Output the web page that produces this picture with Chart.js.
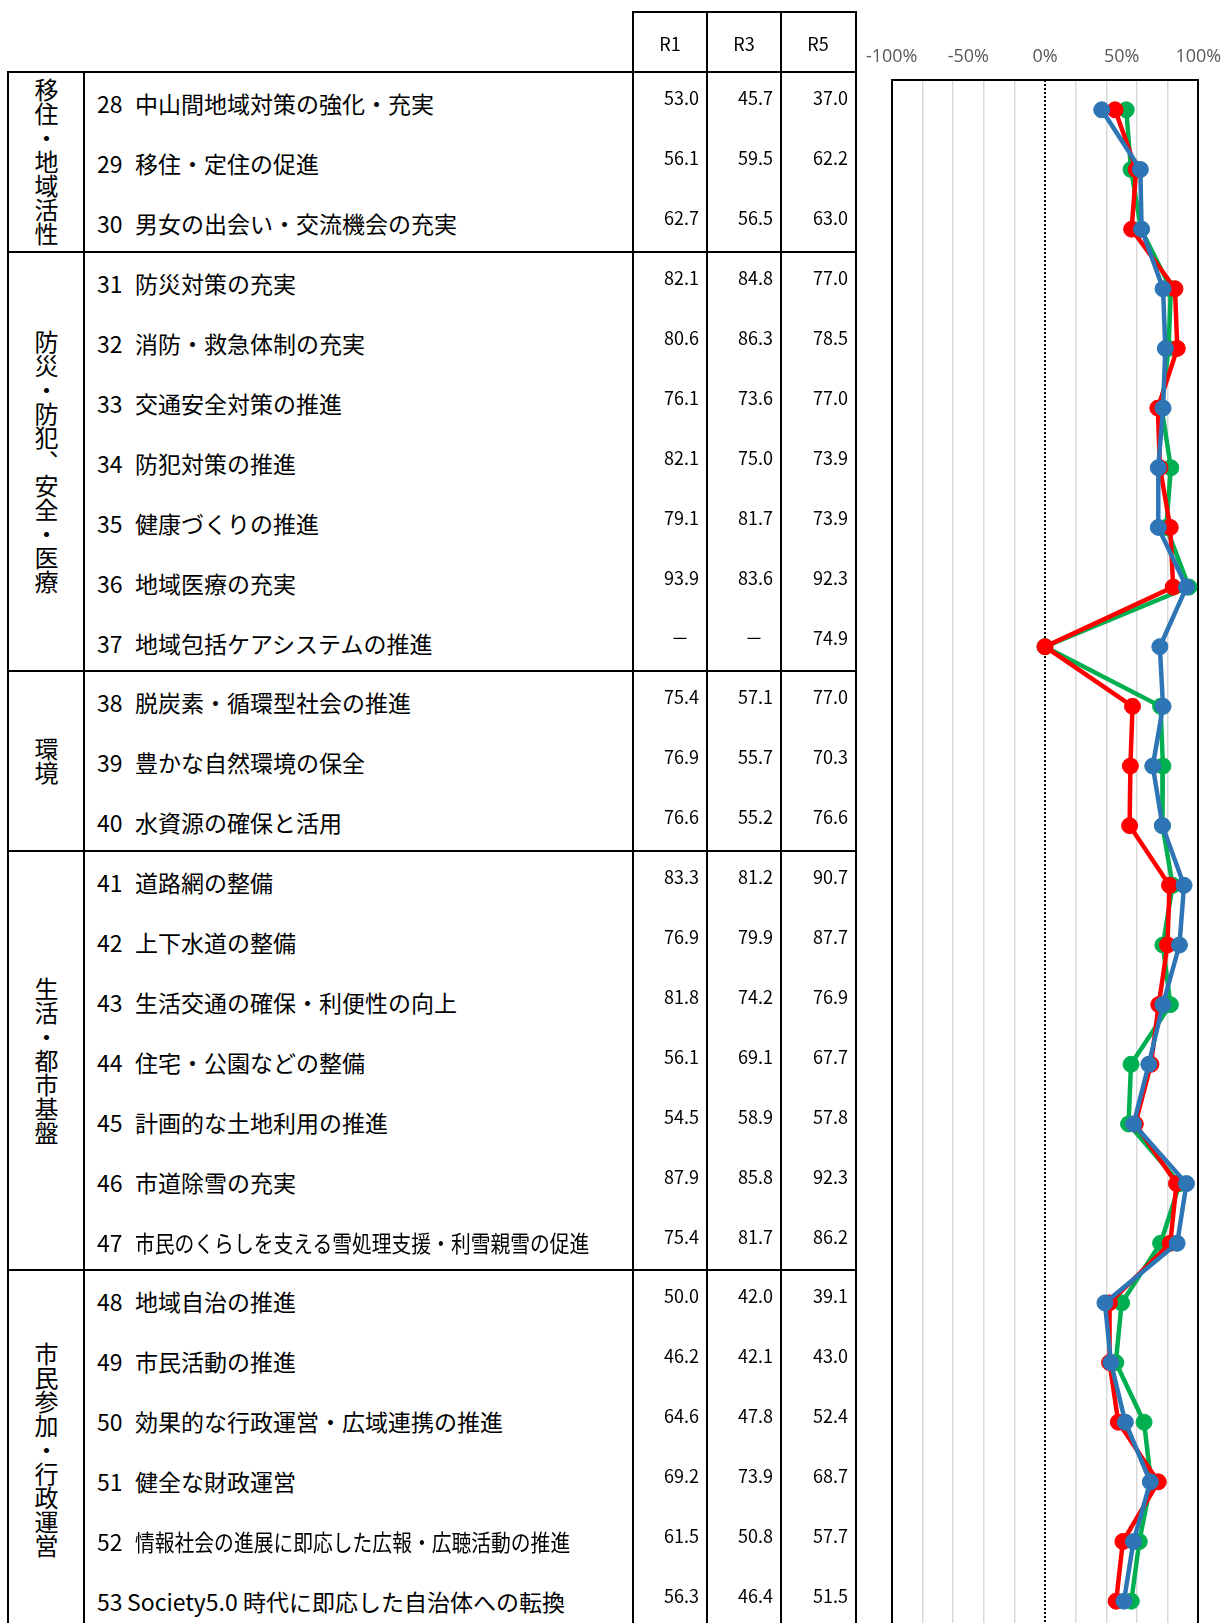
<!DOCTYPE html>
<html lang="ja">
<head>
<meta charset="utf-8">
<script src="https://cdn.jsdelivr.net/npm/chart.js@4.4.1/dist/chart.umd.min.js"></script>
<style>
  html, body { margin: 0; padding: 0; background: #fff; overflow: hidden; }
  #page { position: relative; width: 1222px; height: 1623px; overflow: hidden; }
  .ln { position: absolute; background: #000; }
  .lbl { position: absolute; left: 97px; height: 30px; line-height: 30px; font: 23px "Noto Sans CJK JP"; white-space: nowrap; color: #000; }
  .lbl .no { display: inline-block; width: 38px; }
  .lbl .nm { display: inline-block; transform-origin: 0 50%; }
  .num { position: absolute; width: 70px; height: 24px; line-height: 24px; text-align: right; font: 18px "Noto Sans CJK JP"; color: #000; }
  .hd { position: absolute; width: 74px; height: 24px; line-height: 24px; text-align: center; font: 18px "Noto Sans CJK JP"; color: #000; }
  .grp { position: absolute; writing-mode: vertical-rl; text-orientation: upright; font: 24px "Noto Sans CJK JP"; line-height: 30px; width: 30px; color: #000; }
  #chartBox { position: absolute; left: 830px; top: 0; width: 392px; height: 1640px; }
</style>
</head>
<body>
<div id="page">
  <div id="chartBox"><canvas id="chart3" width="392" height="1640"></canvas></div>
</div>
<script>
// groups of items (rows)
const groupNames = ['移住・地域活性', '防災・防犯、安全・医療', '環境', '生活・都市基盤', '市民参加・行政運営'];
const groupSizes = [3, 7, 3, 7, 6];

const itemNos = [28, 29, 30, 31, 32, 33, 34, 35, 36, 37, 38, 39, 40, 41, 42, 43, 44, 45, 46, 47, 48, 49, 50, 51, 52, 53];
const itemNames = [
  '中山間地域対策の強化・充実', '移住・定住の促進', '男女の出会い・交流機会の充実',
  '防災対策の充実', '消防・救急体制の充実', '交通安全対策の推進', '防犯対策の推進',
  '健康づくりの推進', '地域医療の充実', '地域包括ケアシステムの推進',
  '脱炭素・循環型社会の推進', '豊かな自然環境の保全', '水資源の確保と活用',
  '道路網の整備', '上下水道の整備', '生活交通の確保・利便性の向上', '住宅・公園などの整備',
  '計画的な土地利用の推進', '市道除雪の充実', '市民のくらしを支える雪処理支援・利雪親雪の促進',
  '地域自治の推進', '市民活動の推進', '効果的な行政運営・広域連携の推進', '健全な財政運営',
  '情報社会の進展に即応した広報・広聴活動の推進', 'Society5.0 時代に即応した自治体への転換'
];

const yearLabels = ['R1', 'R3', 'R5'];
const r1 = [53.0, 56.1, 62.7, 82.1, 80.6, 76.1, 82.1, 79.1, 93.9, null, 75.4, 76.9, 76.6, 83.3, 76.9, 81.8, 56.1, 54.5, 87.9, 75.4, 50.0, 46.2, 64.6, 69.2, 61.5, 56.3];
const r3 = [45.7, 59.5, 56.5, 84.8, 86.3, 73.6, 75.0, 81.7, 83.6, null, 57.1, 55.7, 55.2, 81.2, 79.9, 74.2, 69.1, 58.9, 85.8, 81.7, 42.0, 42.1, 47.8, 73.9, 50.8, 46.4];
const r5 = [37.0, 62.2, 63.0, 77.0, 78.5, 77.0, 73.9, 73.9, 92.3, 74.9, 77.0, 70.3, 76.6, 90.7, 87.7, 76.9, 67.7, 57.8, 92.3, 86.2, 39.1, 43.0, 52.4, 68.7, 57.7, 51.5];
const yearValues = [r1, r3, r5];
const yearColors = ['#00B050', '#FF0000', '#2E75B6'];

// ---- table ----
const page = document.getElementById('page');
const tTop = 72.4, rowH = 59.9, headTop = 12.4;
const colX = [633, 707, 781, 856];
const tBottom = tTop + itemNos.length * rowH;

function addLine(x1, y1, x2, y2) {
  const d = document.createElement('div');
  d.className = 'ln';
  d.style.left = (x1 - 1) + 'px';
  d.style.top = (y1 - 1) + 'px';
  d.style.width = (x2 - x1 + 2) + 'px';
  d.style.height = (y2 - y1 + 2) + 'px';
  page.appendChild(d);
}
function addDiv(cls, text, left, top) {
  const d = document.createElement('div');
  d.className = cls;
  d.textContent = text;
  d.style.left = left + 'px';
  d.style.top = top + 'px';
  page.appendChild(d);
  return d;
}

addLine(colX[0], headTop, colX[3], headTop);
addLine(8, tTop, colX[3], tTop);
addLine(8, tTop, 8, tBottom);
addLine(84, tTop, 84, tBottom);
colX.forEach(x => addLine(x, headTop, x, tBottom));

yearLabels.forEach((y, j) => addDiv('hd', y, colX[j], headTop + 30 - 12));

let start = 0;
groupSizes.forEach((n, g) => {
  const y0 = tTop + start * rowH, y1 = tTop + (start + n) * rowH;
  addLine(8, y1, colX[3], y1);
  const d = addDiv('grp', groupNames[g], 31, 0);
  d.style.top = ((y0 + y1) / 2 - d.offsetHeight / 2) + 'px';
  start += n;
});

itemNos.forEach((no, i) => {
  const top = tTop + i * rowH;
  const d = addDiv('lbl', '', 97, top + 29 - 15);
  const s = document.createElement('span');
  s.className = 'no';
  s.textContent = no;
  if (/^[A-Za-z]/.test(itemNames[i])) s.style.width = '30px';
  const nm = document.createElement('span');
  nm.className = 'nm';
  nm.textContent = itemNames[i];
  d.appendChild(s);
  d.appendChild(nm);
  // long names are squeezed to stay inside the cell
  if (nm.offsetWidth > 470) nm.style.transform = 'scaleX(0.86)';
  yearValues.forEach((arr, j) => {
    const v = arr[i];
    const c = addDiv('num', v === null ? '－' : v.toFixed(1), colX[j + 1] - 78, top + 24 - 12);
    if (v === null) c.style.left = (colX[j + 1] - 88) + 'px';
  });
});

// ---- chart ----
function points(arr) {
  return arr.map((v, i) => ({ x: v === null ? 0 : v, y: i }));
}
function series(j, order) {
  return {
    label: yearLabels[j],
    data: points(yearValues[j]),
    borderColor: yearColors[j],
    backgroundColor: yearColors[j],
    pointBackgroundColor: yearColors[j],
    pointBorderColor: yearColors[j],
    borderWidth: 4.5,
    pointRadius: 8,
    pointBorderWidth: 1,
    tension: 0,
    order: order
  };
}

new Chart('chart3', {
  type: 'line',
  data: {
    datasets: [
      series(2, 1),
      series(1, 2),
      series(0, 3),
      {
        label: '0%',
        data: [{ x: 0, y: -0.5 }, { x: 0, y: itemNos.length - 0.5 }],
        borderColor: '#000',
        borderWidth: 2,
        borderDash: [2, 2],
        pointRadius: 0,
        order: 4
      }
    ]
  },
  options: {
    responsive: false,
    animation: false,
    layout: { padding: { left: 61.7, right: 23.7, top: 0, bottom: 9 } },
    plugins: { legend: { display: false }, tooltip: { enabled: false } },
    scales: {
      x: {
        type: 'linear',
        position: 'top',
        min: -100,
        max: 100,
        afterFit: s => { s.height = 80; },
        ticks: {
          stepSize: 10,
          autoSkip: false,
          maxRotation: 0,
          padding: 0,
          color: '#595959',
          font: { family: 'Open Sans', size: 18, lineHeight: 2.6 },
          callback: v => (v % 50 === 0 ? v + '%' : '')
        },
        grid: {
          drawTicks: false,
          color: c => {
            const v = c.tick.value;
            if (v === -100 || v === 100) return '#000';
            if (v === 0) return 'rgba(0,0,0,0)';
            return v % 20 === 0 ? '#D9D9D9' : 'rgba(0,0,0,0)';
          },
          lineWidth: c => (Math.abs(c.tick.value) === 100 ? 2 : 1.5)
        },
        border: { display: true, color: '#000', width: 2 }
      },
      y: {
        type: 'linear',
        display: false,
        reverse: true,
        min: -0.5,
        max: itemNos.length - 0.5
      }
    }
  }
});
</script>
</body>
</html>
